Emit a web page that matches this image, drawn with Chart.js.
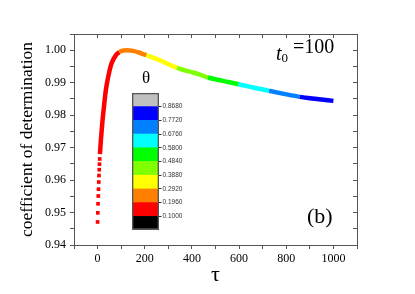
<!DOCTYPE html>
<html lang="en">
<head>
<meta charset="UTF-8">
<title>Coefficient of determination vs tau</title>
<script src="https://cdn.jsdelivr.net/npm/chart.js"></script>
<style>
  html, body { margin: 0; padding: 0; background: #fff; }
  #wrap { position: relative; width: 415px; height: 294px; overflow: hidden; }
  #wrap canvas { position: absolute; }
  #mainChart { left: 0; top: 0; }
  #thetaBar { left: 130px; top: 88px; }
  .lbl { position: absolute; font-family: 'Liberation Serif', 'Times New Roman', serif; color: #000; white-space: nowrap; }
  #thetaTitle { left: 142px; top: 69px; font-size: 17px; line-height: 17px; }
  #t0 { left: 276px; top: 36px; font-size: 20px; line-height: 20px; }
  #t0 .t { font-style: italic; position: relative; top: 7px; }
  #t0 .sub { font-size: 13px; position: relative; top: 9px; }
  #panel { left: 307px; top: 205px; font-size: 22px; line-height: 22px; }
</style>
</head>
<body>
<div id="wrap">
  <canvas id="mainChart" width="415" height="294"></canvas>
  <canvas id="thetaBar" width="64" height="147"></canvas>
  <div class="lbl" id="thetaTitle">θ</div>
  <div class="lbl" id="t0"><span class="t">t</span><span class="sub">0</span> =100</div>
  <div class="lbl" id="panel">(b)</div>
</div>
<script>
    // early points, drawn as separate squares
    const tauDots = [0, 1, 2, 3, 4, 5, 6, 7, 8, 9];
    const r2Dots = [0.9471, 0.9499, 0.9527, 0.9551, 0.9572, 0.9594, 0.9614, 0.9632, 0.9649, 0.9665];

    // rest of the curve, where the squares merge into a thick line
    const tauLine = [10, 14, 20, 27, 35, 45, 59, 78, 92, 110, 125, 150, 175, 193, 207, 235, 264, 300,
                     337, 370, 405, 437, 468, 532, 598, 660, 727, 790, 857, 930, 1000];
    const r2Line = [0.9680, 0.9723, 0.9776, 0.9826, 0.9877, 0.9918, 0.9959, 0.9985, 0.9994, 0.9999, 1.0000,
                    0.9998, 0.9993, 0.9988, 0.9985, 0.9977, 0.9969, 0.9957, 0.99455, 0.9938, 0.99314, 0.9924,
                    0.9916, 0.99055, 0.98954, 0.9885, 0.98748, 0.98655, 0.98563, 0.98498, 0.9844];

    // tau where the theta colour changes along the curve
    const colorBreaks = [92, 207, 337, 468, 598, 727, 857];

    // colour bar levels, bottom to top
    const thetaLevels = ['0.1000', '0.1960', '0.2920', '0.3880', '0.4840', '0.5800', '0.6760', '0.7720', '0.8680'];
    const levelColors = ['#000000', '#ff0000', '#ff8000', '#ffff00', '#80ff00', '#00ff00', '#00ffff', '#0080ff', '#0000ff', '#c0c0c0'];

    const serif = "'Liberation Serif', 'Times New Roman', serif";
    const axisColor = '#555';

    function curveColor(tau) {
        let i = 0;
        while (i < colorBreaks.length && tau >= colorBreaks[i]) i++;
        return levelColors[i + 1];
    }

    function edgeAxis(pos, min, max, step) {
        return {
            type: 'linear', position: pos, min: min, max: max,
            afterFit: s => { if (pos === 'top') s.height = 0; else s.width = 0; },
            ticks: { display: false, stepSize: step },
            grid: { drawOnChartArea: false, tickLength: -4, tickColor: axisColor },
            border: { color: axisColor }
        };
    }

    new Chart(document.getElementById('mainChart'), {
        type: 'line',
        data: {
            datasets: [{
                label: 'early',
                data: tauDots.map((t, i) => ({ x: t, y: r2Dots[i] })),
                showLine: false,
                pointStyle: 'rect',
                pointRadius: 2.6,
                pointBorderWidth: 0,
                pointBackgroundColor: '#ff0000'
            }, {
                label: 'curve',
                data: tauLine.map((t, i) => ({ x: t, y: r2Line[i] })),
                borderColor: '#ff0000',
                borderWidth: 4.5,
                pointRadius: 0,
                cubicInterpolationMode: 'monotone',
                segment: { borderColor: ctx => curveColor(ctx.p0.parsed.x) }
            }]
        },
        options: {
            responsive: false,
            animation: false,
            devicePixelRatio: 1,
            layout: { padding: { top: 34, right: 58, bottom: 0, left: 0 } },
            plugins: { legend: { display: false }, tooltip: { enabled: false } },
            scales: {
                x: {
                    type: 'linear', min: -100, max: 1100,
                    afterFit: s => { s.height = 49; },
                    ticks: {
                        stepSize: 100, autoSkip: false, maxRotation: 0, padding: 3, color: '#000',
                        font: { family: serif, size: 12 },
                        callback: v => (v >= 0 && v <= 1000 && v % 200 === 0) ? String(v) : ''
                    },
                    grid: { drawOnChartArea: false, tickLength: 4, tickColor: axisColor },
                    border: { color: axisColor },
                    title: { display: true, text: 'τ', color: '#000', font: { family: serif, size: 22 }, padding: { top: 0, bottom: 6 } }
                },
                y: {
                    type: 'linear', min: 0.94, max: 1.005,
                    afterFit: s => { s.width = 74; },
                    ticks: {
                        stepSize: 0.005, autoSkip: false, padding: 4, color: '#000',
                        font: { family: serif, size: 12 },
                        callback: v => Math.round(v * 200) % 2 === 0 ? v.toFixed(2) : ''
                    },
                    grid: { drawOnChartArea: false, tickLength: 4, tickColor: axisColor },
                    border: { color: axisColor },
                    title: { display: true, text: 'coefficient of determination', color: '#000', font: { family: serif, size: 17.5 }, padding: { top: 17, bottom: 0 } }
                },
                x2: edgeAxis('top', -100, 1100, 100),
                y2: edgeAxis('right', 0.94, 1.005, 0.005)
            }
        }
    });

    new Chart(document.getElementById('thetaBar'), {
        type: 'bar',
        data: {
            labels: [''],
            datasets: [
                { data: [[0, 10]], backgroundColor: 'rgba(0,0,0,0)', borderColor: '#555', borderWidth: 1, borderSkipped: false },
                ...levelColors.map((c, i) => ({ data: [[i, i + 1]], backgroundColor: c, borderWidth: 0 }))
            ]
        },
        options: {
            responsive: false,
            animation: false,
            devicePixelRatio: 1,
            layout: { padding: { top: 2, left: 2, bottom: 2, right: 0 } },
            plugins: { legend: { display: false }, tooltip: { enabled: false } },
            datasets: { bar: { grouped: false, barPercentage: 1, categoryPercentage: 1 } },
            scales: {
                x: { display: false },
                y: {
                    type: 'linear', position: 'right', min: 0, max: 10,
                    afterFit: s => { s.width = 35; },
                    ticks: {
                        stepSize: 1, padding: 1, color: '#333',
                        font: { family: "'Liberation Sans', Arial, sans-serif", size: 6.5 },
                        callback: v => thetaLevels[v - 1] || ''
                    },
                    grid: {
                        drawOnChartArea: false, tickLength: 2.5,
                        tickColor: ctx => (ctx.tick && ctx.tick.value > 0 && ctx.tick.value < 10) ? '#333' : 'rgba(0,0,0,0)'
                    },
                    border: { display: false }
                }
            }
        }
    });
</script>
</body>
</html>
